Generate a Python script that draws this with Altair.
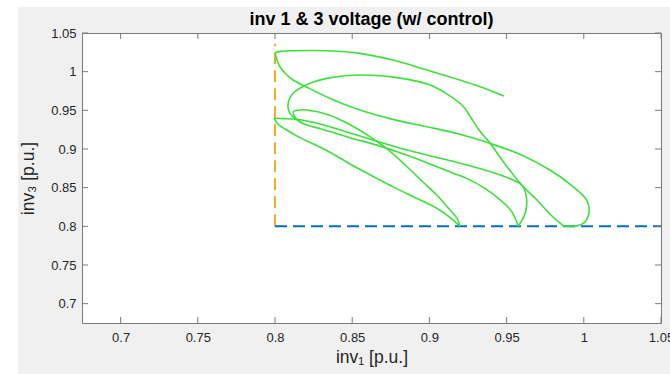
import altair as alt
import pandas as pd

TITLE = "inv 1 & 3 voltage (w/ control)"

# Trajectory of the two inverter voltages (inv1 on x, inv3 on y), in p.u.,
# stored as strokes between the points where the path meets a limit.
top_x = [0.9483, 0.9328, 0.9198, 0.8984, 0.8764, 0.855, 0.8337, 0.8117, 0.8035, 0.800]
top_y = [0.9685, 0.9805, 0.9892, 1.0021, 1.015, 1.0237, 1.0271, 1.0271, 1.0262, 1.0245]

outer_x = [0.800, 0.8013, 0.8032, 0.8070, 0.8117, 0.8207, 0.835, 0.855, 0.877, 0.8984, 0.918,
           0.9393, 0.960, 0.9781, 0.992, 1.0019, 1.0035, 1.0027, 1.000, 0.995, 0.987]
outer_y = [1.0245, 1.015, 1.0064, 0.997, 0.9892, 0.9798, 0.966, 0.9504, 0.938, 0.9288, 0.920,
           0.9073, 0.892, 0.8728, 0.853, 0.834, 0.822, 0.8124, 0.804, 0.8003, 0.8003]

inner_x = [0.987, 0.978, 0.9697, 0.9598, 0.949, 0.9393, 0.932, 0.927, 0.922, 0.913, 0.900, 0.880,
           0.855, 0.835, 0.8227, 0.8117, 0.8084, 0.8097, 0.8181, 0.830, 0.848, 0.866, 0.881, 0.900,
           0.915, 0.9242, 0.936, 0.946, 0.953, 0.9576]
inner_y = [0.8003, 0.816, 0.834, 0.8534, 0.8805, 0.9073, 0.925, 0.940, 0.955, 0.969, 0.983, 0.992,
           0.9957, 0.992, 0.985, 0.972, 0.957, 0.946, 0.933, 0.926, 0.915, 0.905, 0.895, 0.881,
           0.869, 0.862, 0.849, 0.834, 0.820, 0.8003]

side_x = [0.7994, 0.806, 0.814, 0.830, 0.848, 0.866, 0.885, 0.905, 0.925, 0.945, 0.9598, 0.9628,
          0.9622, 0.9576]
side_y = [0.9397, 0.9393, 0.9384, 0.932, 0.921, 0.910, 0.899, 0.889, 0.879, 0.867, 0.8534, 0.838,
          0.818, 0.8003]

down_x = [0.7994, 0.802, 0.8076, 0.815, 0.8335, 0.850, 0.866, 0.8766, 0.892, 0.905, 0.913, 0.9198]
down_y = [0.9397, 0.932, 0.9245, 0.916, 0.898, 0.879, 0.862, 0.851, 0.836, 0.823, 0.812, 0.8003]

steep_x = [0.9198, 0.918, 0.913, 0.906, 0.896, 0.884, 0.872, 0.860, 0.848, 0.835, 0.8205, 0.8150,
           0.8119, 0.8125, 0.8150, 0.8181]
steep_y = [0.8003, 0.810, 0.822, 0.838, 0.857, 0.880, 0.901, 0.918, 0.932, 0.944, 0.9504, 0.9502,
           0.9482, 0.943, 0.937, 0.933]

# Voltage limits
lim1_x = [0.8, 0.8]
lim1_y = [0.8, 1.036]
lim3_x = [0.8, 1.05]
lim3_y = [0.8, 0.8]

x_ticks = [0.7, 0.75, 0.8, 0.85, 0.9, 0.95, 1.0, 1.05]
y_ticks = [0.7, 0.75, 0.8, 0.85, 0.9, 0.95, 1.0, 1.05]

W, H = 579, 290
FONT = "Liberation Sans"
AXIS_GREY = "#7a7a7a"
TEXT = "#262626"

strokes = [("top", top_x, top_y), ("outer", outer_x, outer_y), ("inner", inner_x, inner_y),
           ("side", side_x, side_y), ("down", down_x, down_y), ("steep", steep_x, steep_y)]
rows = []
for name, xs_, ys_ in strokes:
    for i, (a, b) in enumerate(zip(xs_, ys_)):
        rows.append({"seg": name, "i": i, "inv1": a, "inv3": b})
traj = pd.DataFrame(rows)

xs = alt.Scale(domain=[0.675, 1.05], nice=False, zero=False)
ys = alt.Scale(domain=[0.675, 1.05], nice=False, zero=False)

x_axis = alt.Axis(values=x_ticks, format="~g", ticks=False, domain=False, grid=False,
                  labelFlush=False, labelOverlap=False, labelFont=FONT, labelFontSize=13,
                  labelColor=TEXT, labelPadding=8,
                  title="inv\u2081 [p.u.]", titleFont=FONT, titleFontSize=17.5,
                  titleFontWeight="normal", titleColor=TEXT, titleX=W / 2, titleY=39,
                  titleAlign="center", titleBaseline="alphabetic")
y_axis = alt.Axis(values=y_ticks, format="~g", ticks=False, domain=False, grid=False,
                  labelFlush=False, labelOverlap=False, labelFont=FONT, labelFontSize=13,
                  labelColor=TEXT, labelPadding=6,
                  title="inv\u2083 [p.u.]", titleFont=FONT, titleFontSize=17.5,
                  titleFontWeight="normal", titleColor=TEXT, titleAngle=270, titleX=-49,
                  titleY=H / 2, titleAlign="center", titleBaseline="alphabetic")

lim1 = pd.DataFrame({"inv1": lim1_x, "inv3": lim1_y, "i": [0, 1]})
lim3 = pd.DataFrame({"inv1": lim3_x, "inv3": lim3_y, "i": [0, 1]})

v_limit = alt.Chart(lim1).mark_line(color="#EDB120", strokeWidth=2, strokeDash=[12, 6]).encode(
    x=alt.X("inv1:Q", scale=xs, axis=x_axis), y=alt.Y("inv3:Q", scale=ys, axis=y_axis),
    order="i:Q")
h_limit = alt.Chart(lim3).mark_line(color="#0072BD", strokeWidth=2, strokeDash=[12, 6]).encode(
    x=alt.X("inv1:Q", scale=xs), y=alt.Y("inv3:Q", scale=ys), order="i:Q")

path = alt.Chart(traj).mark_line(color="#3ce03c", strokeWidth=1.6,
                                 interpolate="catmull-rom").encode(
    x=alt.X("inv1:Q", scale=xs), y=alt.Y("inv3:Q", scale=ys),
    detail="seg:N", order="i:Q")

# Inward tick marks on all four sides of the box
xt = pd.DataFrame({"t": x_ticks})
yt = pd.DataFrame({"t": y_ticks})
tick_style = dict(color=AXIS_GREY, strokeWidth=1)
tick_b = alt.Chart(xt).mark_rule(**tick_style).encode(
    x=alt.X("t:Q", scale=xs), y=alt.value(H), y2=alt.value(H - 6))
tick_t = alt.Chart(xt).mark_rule(**tick_style).encode(
    x=alt.X("t:Q", scale=xs), y=alt.value(0), y2=alt.value(6))
tick_l = alt.Chart(yt).mark_rule(**tick_style).encode(
    y=alt.Y("t:Q", scale=ys), x=alt.value(0), x2=alt.value(6))
tick_r = alt.Chart(yt).mark_rule(**tick_style).encode(
    y=alt.Y("t:Q", scale=ys), x=alt.value(W), x2=alt.value(W - 6))

# White page margin on the left and top of the figure window
blank = pd.DataFrame({"k": [0]})
margin_l = alt.Chart(blank).mark_rect(color="white").encode(
    x=alt.value(-82), x2=alt.value(-64), y=alt.value(-33), y2=alt.value(H + 51))
margin_t = alt.Chart(blank).mark_rect(color="white").encode(
    x=alt.value(-82), x2=alt.value(W + 9), y=alt.value(-33), y2=alt.value(-26))

# Figure title, centred over the axes box
title = alt.Chart(pd.DataFrame({"label": [TITLE]})).mark_text(
    font=FONT, fontSize=18, fontWeight="bold", color="#000000",
    align="center", baseline="alphabetic").encode(
    x=alt.value(W / 2), y=alt.value(-8.5), text="label:N")

chart = alt.layer(
    v_limit, h_limit, path, tick_b, tick_t, tick_l, tick_r, margin_l, margin_t, title
).properties(
    width=W, height=H,
    autosize=alt.AutoSizeParams(type="none"),
    padding={"left": 82, "top": 33, "right": 9, "bottom": 51},
    background="#f0f0f0",
).configure_view(
    stroke=AXIS_GREY, strokeWidth=1, fill="white"
)

chart.save("out.html", embed_options={"renderer": "svg", "actions": False})
